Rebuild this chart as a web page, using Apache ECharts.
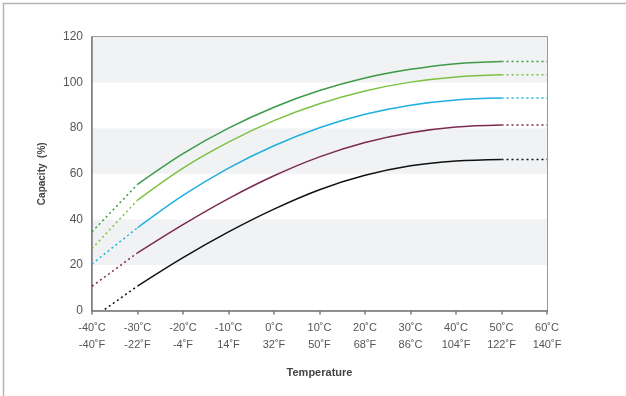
<!DOCTYPE html>
<html>
<head>
<meta charset="utf-8">
<script src="https://cdn.jsdelivr.net/npm/echarts@6/dist/echarts.min.js"></script>
<style>
  html, body { margin: 0; padding: 0; background: #fff; }
  #chart { width: 626px; height: 396px; }
</style>
</head>
<body>
<div id="chart"></div>
<script>
// Discharge rates and their colours
const rates = ['0.05 C', '0.10 C', '0.25 C', '0.50 C', '1 C'];
const rateColors = ['#3d9a47', '#7cc242', '#1fb0e0', '#7a2b4f', '#111111'];

// Measured range (solid): -30 °C to 50 °C
const tempSolid = [-30, -20, -10, 0, 10, 20, 30, 40, 50];
const cap005 = [55.3, 68.8, 80, 89.2, 96.5, 102, 105.8, 108.3, 109.3];
const cap010 = [48.4, 62.5, 73.9, 83.3, 90.7, 96.3, 100.2, 102.5, 103.4];
const cap025 = [36.3, 50.5, 62.5, 72.3, 80.2, 86.1, 90.1, 92.4, 93.2];
const cap050 = [25.3, 37.7, 49.1, 59.1, 67.4, 73.7, 78, 80.5, 81.4];
const cap100 = [10.7, 23.2, 34.5, 44.5, 53, 59.3, 63.5, 65.6, 66.3];
const solidValues = [cap005, cap010, cap025, cap050, cap100];

// Extrapolated range (dashed) below -30 °C
const lowTemps = [[-40, -30], [-40, -30], [-40, -30], [-40, -30], [-37.2, -30]];
const lowCaps = [[34.5, 55.3], [27.2, 48.4], [20.4, 36.3], [10.6, 25.3], [0.5, 10.7]];

// Extrapolated range (dashed) above 50 °C
const highTemps = [50, 60];
const highCaps = [[109.3, 109.3], [103.4, 103.4], [93.2, 93.2], [81.4, 81.4], [66.3, 66.3]];

// Axis tick labels
const celsiusLabels = ['-40˚C', '-30˚C', '-20˚C', '-10˚C', '0˚C', '10˚C', '20˚C', '30˚C', '40˚C', '50˚C', '60˚C'];
const fahrenheitLabels = ['-40˚F', '-22˚F', '-4˚F', '14˚F', '32˚F', '50˚F', '68˚F', '86˚C', '104˚F', '122˚F', '140˚F'];

// Rate label nudges next to the right end of each curve
const labelOffsets = [[0, -3], [0, 8], [0, 1], [0, 0], [9, -2]];

const FONT = '"Liberation Sans", Arial, sans-serif';

const series = [];
rates.forEach((name, i) => {
  const color = rateColors[i];
  series.push({
    name: name + ' low',
    type: 'line',
    symbol: 'none',
    silent: true,
    data: lowTemps[i].map((t, k) => [t, lowCaps[i][k]]),
    lineStyle: { color, width: 1.5, type: [2, 3] },
    z: 3
  });
  series.push({
    name: name,
    type: 'line',
    symbol: 'none',
    smooth: 0.35,
    silent: true,
    data: tempSolid.map((t, k) => [t, solidValues[i][k]]),
    lineStyle: { color, width: 1.5 },
    z: 4
  });
  series.push({
    name: name + ' high',
    type: 'line',
    symbol: 'none',
    silent: true,
    data: [
      [highTemps[0], highCaps[i][0]],
      {
        value: [highTemps[1], highCaps[i][1]],
        label: {
          show: true,
          position: 'right',
          distance: 6,
          offset: labelOffsets[i],
          formatter: name,
          color: '#444',
          fontSize: 11,
          fontFamily: FONT
        }
      }
    ],
    lineStyle: { color, width: 1.5, type: [2, 3] },
    z: 3
  });
});

const chart = echarts.init(document.getElementById('chart'), null, { renderer: 'canvas' });
chart.setOption({
  animation: false,
  backgroundColor: '#fff',
  graphic: [
    {
      type: 'rect',
      shape: { x: 3.5, y: 3.5, width: 640, height: 420 },
      style: { fill: 'none', stroke: '#b4b4b4', lineWidth: 1.5 },
      silent: true,
      z: 0
    }
  ],
  grid: {
    left: 92, right: 79, top: 37, bottom: 85.5,
    show: true,
    borderColor: '#7a7a7a',
    borderWidth: 1.5,
    backgroundColor: 'transparent'
  },
  xAxis: {
    type: 'value',
    min: -40, max: 60, interval: 10,
    name: 'Temperature',
    nameLocation: 'middle',
    nameGap: 57,
    nameTextStyle: { fontFamily: FONT, fontWeight: 'bold', fontSize: 11, color: '#444' },
    axisLine: { show: true, onZero: false, lineStyle: { color: '#7a7a7a', width: 1.5 } },
    axisTick: { show: true, length: 4, lineStyle: { color: '#7a7a7a', width: 1.5 } },
    splitLine: { show: false },
    axisLabel: {
      margin: 9,
      lineHeight: 17,
      fontFamily: FONT,
      fontSize: 11,
      color: '#555',
      formatter: (v) => {
        const idx = Math.round((v + 40) / 10);
        return celsiusLabels[idx] + '\n' + fahrenheitLabels[idx];
      }
    }
  },
  yAxis: {
    type: 'value',
    min: 0, max: 120, interval: 20,
    name: 'Capacity  (%)',
    nameLocation: 'middle',
    nameGap: 45,
    nameRotate: 90,
    nameTextStyle: { fontFamily: FONT, fontWeight: 'bold', fontSize: 10, color: '#444' },
    axisLine: { show: true, onZero: false, lineStyle: { color: '#7a7a7a', width: 1.5 } },
    axisTick: { show: false },
    splitLine: { show: false },
    splitArea: { show: true, areaStyle: { color: ['#ffffff', '#f1f2f4'] } },
    axisLabel: { margin: 9, fontFamily: FONT, fontSize: 12, color: '#555' }
  },
  series
});
</script>
</body>
</html>
